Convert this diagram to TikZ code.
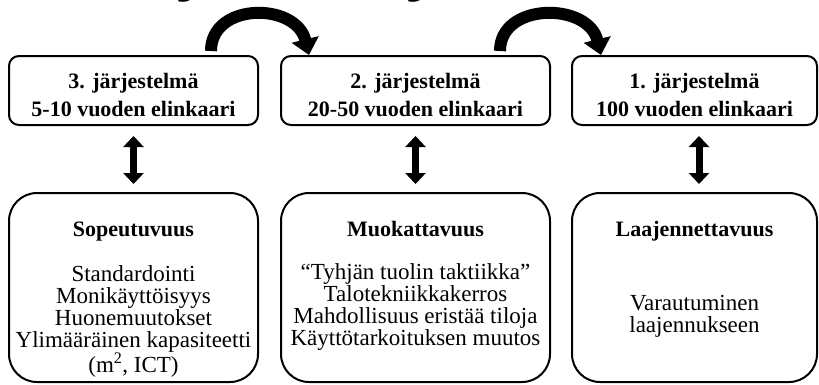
\documentclass[tikz,border=0pt]{standalone}
\usepackage{fontspec}
\setmainfont{Liberation Serif}
\usetikzlibrary{arrows.meta}
\begin{document}
\begin{tikzpicture}[x=1pt,y=-1pt,
  systembox/.style={draw=black,line width=2pt,rounded corners=10pt,fill=white,
    minimum width=249pt,minimum height=69pt,inner sep=0pt},
  propbox/.style={draw=black,line width=2pt,rounded corners=28pt,fill=white,
    minimum width=249pt,minimum height=189pt,inner sep=0pt},
  systemtext/.style={align=center,inner sep=0pt,
    font=\bfseries\fontsize{22}{28}\selectfont},
  proptitle/.style={anchor=base,inner sep=0pt,
    font=\bfseries\fontsize{22}{26}\selectfont},
  propbody/.style={anchor=north,align=center,inner sep=0pt,
    font=\fontsize{23}{22}\selectfont},
  linkarrow/.style={line width=7pt,
    {Triangle[width=20pt,length=11pt]}-{Triangle[width=20pt,length=11pt]},
    shorten <=10pt,shorten >=8pt},
  passarrow/.style={line width=12pt,-{Triangle[width=27pt,length=16pt]}},
  headline/.style={anchor=base,inner sep=0pt,
    font=\bfseries\itshape\fontsize{60}{60}\selectfont}]
\useasboundingbox (0,0) rectangle (819,384);

% heading line, only its descenders fall inside the page
\node[headline] (hj1) at (195,-11) {j};
\node[headline] (hj2) at (425,-11) {j};

% the three systems and their life spans
\node[systembox] (t1) at (133.5,90.5) {};
\node[systembox,minimum width=269pt] (t2) at (415.5,90.5) {};
\node[systembox,minimum width=245pt] (t3) at (694.5,90.5) {};
\node[systemtext] (t1txt) at ([yshift=-4.5pt]t1.center) {3. järjestelmä\\5-10 vuoden elinkaari};
\node[systemtext] (t2txt) at ([yshift=-4.5pt]t2.center) {2. järjestelmä\\20-50 vuoden elinkaari};
\node[systemtext] (t3txt) at ([yshift=-4.5pt]t3.center) {1. järjestelmä\\100 vuoden elinkaari};

% the matching properties
\node[propbox] (b1) at (133.5,287.5) {};
\node[propbox,minimum width=269pt] (b2) at (415.5,287.5) {};
\node[propbox,minimum width=245pt] (b3) at (694.5,287.5) {};

\node[proptitle] (b1h) at (133.5,236) {Sopeutuvuus};
\node[proptitle] (b2h) at (415.5,236) {Muokattavuus};
\node[proptitle] (b3h) at (694.5,236) {Laajennettavuus};

\node[propbody] (b1txt) at (133.5,265) {Standardointi\\Monikäyttöisyys\\Huonemuutokset\\Ylimääräinen kapasiteetti\\(m\textsuperscript{2}, ICT)};
\node[propbody] (b2txt) at (415.5,263) {“Tyhjän tuolin taktiikka”\\Talotekniikkakerros\\Mahdollisuus eristää tiloja\\Käyttötarkoituksen muutos};
\node[propbody] (b3txt) at (694.5,295) {Varautuminen\\laajennukseen};

% links between each system and its property
\draw[linkarrow] (t1.south) -- (b1.north);
\draw[linkarrow] (t2.south) -- (b2.north);
\draw[linkarrow] ([xshift=4.5pt]t3.south) -- ([xshift=4.5pt]b3.north);

% passing from one system to the next
\draw[passarrow] ([xshift=-48pt,yshift=4pt]t1.north east)
  .. controls +(0,-49) and +(-13,-53) .. ([xshift=29pt]t2.north west);
\draw[passarrow] ([xshift=-51pt,yshift=4pt]t2.north east)
  .. controls +(0,-49) and +(-13,-53) .. ([xshift=30pt]t3.north west);
\end{tikzpicture}
\end{document}
